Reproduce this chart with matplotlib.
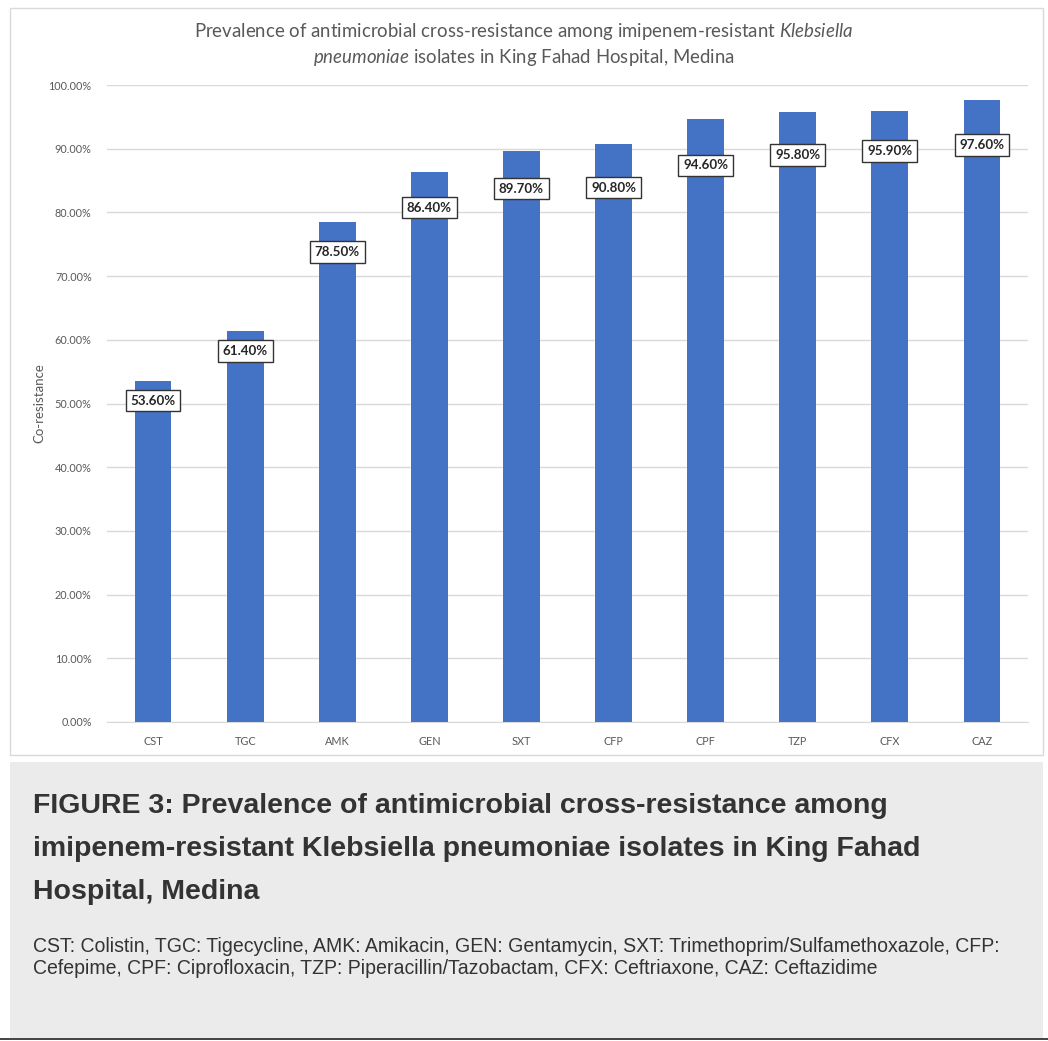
import matplotlib
matplotlib.use("Agg")
import matplotlib.pyplot as plt
from matplotlib.patches import Rectangle
from matplotlib.ticker import FuncFormatter, MultipleLocator

plt.rcParams["mathtext.fontset"] = "custom"
plt.rcParams["mathtext.rm"] = "Lato"
plt.rcParams["mathtext.it"] = "Lato:italic"

# Antimicrobial agents and co-resistance among imipenem-resistant isolates
agents = ["CST", "TGC", "AMK", "GEN", "SXT", "CFP", "CPF", "TZP", "CFX", "CAZ"]
co_resistance = [53.6, 61.4, 78.5, 86.4, 89.7, 90.8, 94.6, 95.8, 95.9, 97.6]
# How far below each bar top its value label sits (pixels)
label_drop = [20, 20, 30, 36, 38, 44, 46, 43, 40, 45]

W, H = 1048, 1041
fig = plt.figure(figsize=(W / 100, H / 100), dpi=100)
fig.patch.set_facecolor("white")


def px_box(x0, y0, x1, y1):
    """Figure-fraction rectangle from pixel coordinates (origin top-left)."""
    return (x0 / W, 1 - y1 / H, (x1 - x0) / W, (y1 - y0) / H)


# Chart panel frame
l, b, w, h = px_box(10, 8, 1043, 755)
fig.patches.append(Rectangle((l, b), w, h, transform=fig.transFigure,
                             facecolor="white", edgecolor="#d9d9d9", lw=1.0, zorder=-2))

# Caption panel
l, b, w, h = px_box(10, 762, 1043, 1038)
fig.patches.append(Rectangle((l, b), w, h, transform=fig.transFigure,
                             facecolor="#ebebeb", edgecolor="none", zorder=-2))
fig.add_artist(plt.Line2D([0, 1], [1 - 1039 / H] * 2, transform=fig.transFigure,
                          color="#222222", lw=1.2))

ax = fig.add_axes(px_box(107, 85, 1028, 722))
ax.set_zorder(2)
ax.set_facecolor("none")

x = list(range(len(agents)))
bars = ax.bar(x, co_resistance, width=0.4, color="#4472C4", zorder=3)

ax.set_xlim(-0.5, len(agents) - 0.5)
ax.set_ylim(0, 100)
ax.yaxis.set_major_locator(MultipleLocator(10))
ax.yaxis.set_major_formatter(FuncFormatter(lambda v, _: f"{v:.2f}%"))
ax.grid(axis="y", color="#d9d9d9", lw=1.0, zorder=0)
for s in ["top", "right", "left"]:
    ax.spines[s].set_visible(False)
ax.spines["bottom"].set_color("#d9d9d9")
ax.tick_params(length=0, colors="#595959", labelsize=7.8)
ax.tick_params(axis="y", pad=11)
ax.tick_params(axis="x", pad=10)
ax.set_xticks(x)
ax.set_xticklabels(agents, family="Lato")
for t in ax.get_yticklabels():
    t.set_family("Lato")

ax.set_ylabel("Co-resistance", family="Lato", fontsize=9.5, color="#595959", labelpad=2)

for xi, v, d in zip(x, co_resistance, label_drop):
    ax.annotate(f"{v:.2f}%", xy=(xi, v), xytext=(0, -d), textcoords="offset pixels",
                ha="center", va="center", fontsize=9.6, fontweight="bold",
                family="Lato", color="#262626", zorder=5,
                bbox=dict(boxstyle="square,pad=0.36", facecolor="white",
                          edgecolor="#333333", lw=1.0))

# Chart title with italic species name
fig.text(0.5, 1 - 31 / H,
         r"Prevalence of antimicrobial cross-resistance among imipenem-resistant $\mathit{Klebsiella}$",
         ha="center", va="center", fontsize=13.45, color="#595959", family="Lato")
fig.text(0.5, 1 - 57 / H,
         r"$\mathit{pneumoniae}$ isolates in King Fahad Hospital, Medina",
         ha="center", va="center", fontsize=13.45, color="#595959", family="Lato")

# Figure caption
cap_lines = [
    "FIGURE 3: Prevalence of antimicrobial cross-resistance among",
    "imipenem-resistant Klebsiella pneumoniae isolates in King Fahad",
    "Hospital, Medina",
]
for i, line in enumerate(cap_lines):
    fig.text(33 / W, 1 - (806 + 43 * i) / H, line, ha="left", va="center",
             fontsize=20.5, fontweight="bold", color="#333333", family="Liberation Sans")

legend_lines = [
    "CST: Colistin, TGC: Tigecycline, AMK: Amikacin, GEN: Gentamycin, SXT: Trimethoprim/Sulfamethoxazole, CFP:",
    "Cefepime, CPF: Ciprofloxacin, TZP: Piperacillin/Tazobactam, CFX: Ceftriaxone, CAZ: Ceftazidime",
]
for i, line in enumerate(legend_lines):
    fig.text(33 / W, 1 - (946 + 23 * i) / H, line, ha="left", va="center",
             fontsize=14.05, color="#333333", family="Liberation Sans")

fig.savefig("out.png", dpi=100)
